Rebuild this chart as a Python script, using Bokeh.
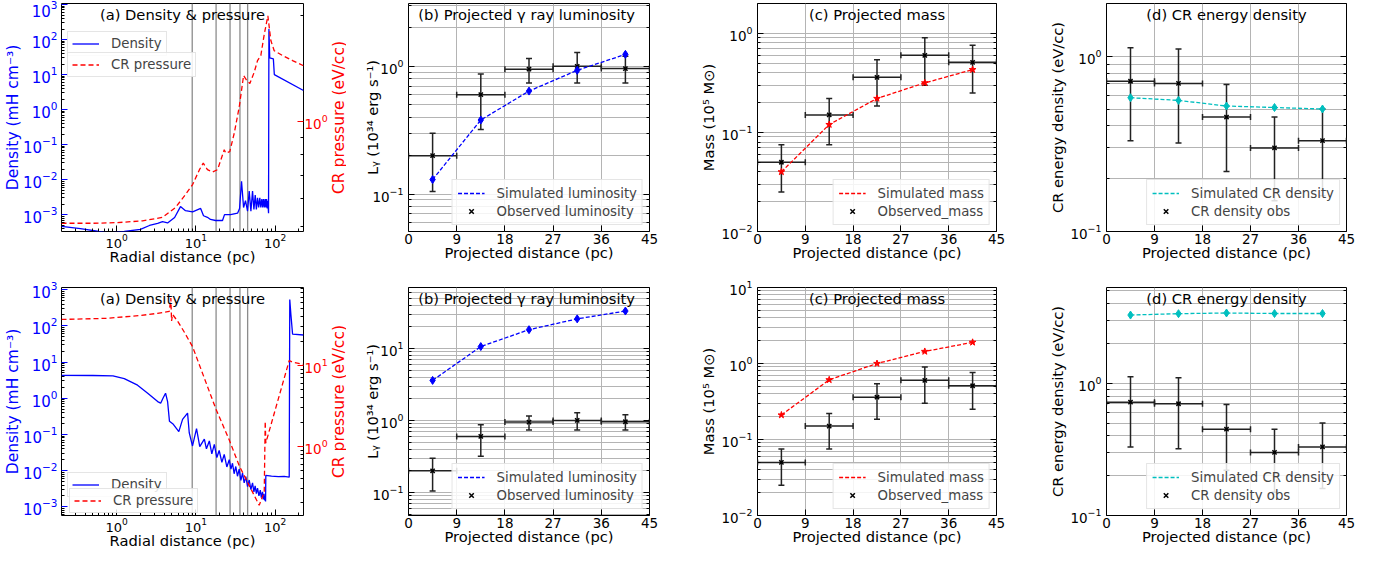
import math
from bokeh.plotting import figure
from bokeh.models import (Range1d, LogScale, LogAxis, FixedTicker, Span, Label,
                          Legend, LegendItem, Whisker, TeeHead, ColumnDataSource)
from bokeh.layouts import row, column
from bokeh.embed import file_html
from bokeh.resources import INLINE

# ---------------------------------------------------------------- data
# (a) radial profiles, top row  (r in pc)
r_dens_top = [0.202, 0.35, 0.6, 0.8, 1.25, 2.0, 2.6, 3.3, 3.8, 4.4, 5.4, 6.4, 7.4, 9.1,
              11.5, 12.5, 14.0, 15.3, 17.7, 21.7, 23.0, 27.4, 33.6, 35.6, 37.7, 40.0,
              42.3, 44.9, 47.1, 49.5, 51.9, 54.0, 56.1, 58.0, 60.0, 62.0, 64.1, 66.0,
              68.0, 69.7, 71.4, 73.2, 75.0, 76.5, 78.0, 79.5, 80.9, 82.6, 83.5, 85.5,
              95.0, 97.7, 228.0]
dens_top = [4.6e-4, 4.0e-4, 3.3e-4, 3.0e-4, 3.3e-4, 3.8e-4, 4.9e-4, 5.6e-4, 6.3e-4,
            5.8e-4, 8.3e-4, 1.7e-3, 1.3e-3, 1.2e-3, 1.5e-3, 9.3e-4, 8.4e-4, 7.3e-4,
            6.8e-4, 6.8e-4, 1.0e-3, 1.0e-3, 1.1e-3, 1.5e-3, 9.0e-3, 1.6e-3, 2.5e-3,
            1.25e-3, 4.7e-3, 1.25e-3, 4.7e-3, 1.4e-3, 3.6e-3, 1.4e-3, 3.0e-3, 1.6e-3,
            3.0e-3, 1.6e-3, 2.8e-3, 1.6e-3, 2.8e-3, 1.6e-3, 2.8e-3, 1.6e-3, 2.8e-3,
            1.5e-3, 2.5e-3, 1.1e-3, 200.0, 30.0, 28.0, 10.0, 3.5]
r_pres_top = [0.202, 0.5, 1.0, 2.13, 3.8, 5.55, 7.4, 9.1, 11.1, 12.4, 14.0, 16.2, 18.8,
              22.8, 23.9, 26.8, 30.5, 35.3, 40.0, 43.6, 48.0, 54.5, 60.0, 66.0, 72.9,
              81.0, 88.3, 97.4, 124.0, 166.0, 228.0]
pres_top = [0.51, 0.51, 0.512, 0.518, 0.53, 0.566, 0.616, 0.658, 0.726, 0.758, 0.726,
            0.715, 0.726, 0.828, 0.81, 0.818, 0.923, 1.099, 1.35, 1.31, 1.28, 1.38,
            1.49, 1.54, 1.77, 2.0, 1.70, 1.59, 1.54, 1.49, 1.44]

# (a) radial profiles, bottom row
r_dens_bot = [0.202, 0.5, 0.9, 1.25, 1.84, 2.47, 3.3, 3.6, 3.85, 4.15, 4.4, 4.65, 5.2,
              6.1, 6.8, 7.86, 8.26, 9.08, 10.2, 11.2, 12.8, 13.6, 14.8, 15.9, 17.1,
              18.4, 19.7, 21.3, 22.8, 24.6, 26.4, 27.7, 29.0, 30.4, 31.9, 33.5, 35.2,
              37.0, 38.8, 40.7, 42.7, 44.9, 47.1, 49.5, 51.9, 54.0, 56.0, 58.0, 60.0,
              62.5, 65.0, 67.0, 69.3, 71.0, 72.5, 74.0, 75.0, 75.8, 76.3, 90.0, 110.0,
              130.0, 150.6, 153.0, 158.0, 166.0, 228.0]
dens_bot = [4.3, 4.25, 4.15, 3.5, 2.3, 1.38, 0.81, 0.73, 1.0, 1.38, 0.81, 0.23, 0.19,
            0.12, 0.26, 0.39, 0.11, 0.048, 0.145, 0.046, 0.074, 0.04, 0.066, 0.029,
            0.053, 0.023, 0.036, 0.017, 0.028, 0.0126, 0.02, 0.011, 0.016, 0.0082,
            0.013, 0.007, 0.011, 0.0054, 0.0085, 0.0046, 0.0068, 0.0036, 0.0055, 0.003,
            0.0046, 0.0026, 0.0038, 0.0023, 0.0033, 0.002, 0.0029, 0.0018, 0.0026,
            0.0016, 0.0023, 0.0015, 0.0019, 0.0014, 0.0074, 0.007, 0.0068, 0.0069,
            0.0066, 535.0, 210.0, 59.0, 56.0]
r_pres_bot = [0.202, 0.77, 2.02, 3.29, 4.62, 4.84, 4.94, 5.08, 5.87, 6.8, 7.2, 9.1,
              17.9, 26.4, 35.3, 47.0, 63.0, 72.9, 75.0, 76.3, 150.6, 166.0, 228.0]
pres_bot = [37.0, 38.2, 41.5, 44.0, 46.5, 68.0, 35.4, 42.7, 35.4, 28.0, 25.5, 17.0,
            2.9, 1.2, 0.575, 0.33, 0.187, 0.272, 2.04, 1.1, 11.5, 11.0, 10.3]

shell_edges = [9, 18, 27, 36, 45]

# projected quantities (bins of 9 pc)
x_obs = [4.5, 13.5, 22.5, 31.5, 40.5]
x_half = [4.5, 4.5, 4.5, 4.5, 4.5]
dist_ticks = [0, 9, 18, 27, 36, 45]

lum_obs = [0.2, 0.6, 0.95, 1.0, 0.96]
lum_lo = [0.105, 0.32, 0.74, 0.74, 0.74]
lum_hi = [0.30, 0.87, 1.15, 1.28, 1.2]
lum_sim_top = [0.13, 0.38, 0.64, 0.93, 1.24]
lum_sim_bot = [3.6, 10.6, 18.2, 25.7, 33.0]

mass_obs = [0.05, 0.15, 0.36, 0.6, 0.51]
mass_lo = [0.025, 0.075, 0.185, 0.3, 0.25]
mass_hi = [0.075, 0.22, 0.54, 0.9, 0.76]
mass_sim_top = [0.04, 0.12, 0.22, 0.316, 0.43]
mass_sim_bot = [0.21, 0.61, 1.0, 1.44, 1.9]

ecr_obs = [0.72, 0.70, 0.45, 0.30, 0.33]
ecr_lo = [0.33, 0.32, 0.22, 0.15, 0.16]
ecr_hi = [1.12, 1.1, 0.69, 0.45, 0.5]
ecr_sim_top = [0.58, 0.56, 0.52, 0.51, 0.50]
ecr_sim_bot = [3.28, 3.36, 3.40, 3.37, 3.37]

# ---------------------------------------------------------------- style
FONT = "DejaVu Sans"
BLUE = "#0000ff"
RED = "#ff0000"
CYAN = "#00bfbf"
GRID = "#b4b4b4"
ERR = "#222222"
DASH = "5 3"


def log_minor(lo, hi):
    out = []
    e = math.floor(math.log10(lo)) - 1
    while 10.0 ** e <= hi:
        for m in range(2, 10):
            v = round(m * 10.0 ** e, 12)
            if lo <= v <= hi:
                out.append(v)
        e += 1
    return out


def log_major(lo, hi):
    return [10.0 ** e for e in range(math.ceil(math.log10(lo) - 1e-9),
                                     math.floor(math.log10(hi) + 1e-9) + 1)]


def make_fig(xr, yr, x_log, fw, fh, bl, br, bt, bb):
    p = figure(x_range=Range1d(*xr), y_range=Range1d(*yr),
               x_axis_type="log" if x_log else "linear", y_axis_type="log",
               frame_width=fw, frame_height=fh,
               min_border_left=bl, min_border_right=br,
               min_border_top=bt, min_border_bottom=bb,
               output_backend="svg", toolbar_location=None)
    p.outline_line_color = "black"
    p.outline_line_width = 1
    p.background_fill_color = "white"
    p.border_fill_color = "white"
    return p


def style_axis(ax, tick_size="13.5px", label_size="14.7px", color="black",
               major_color="black", minor_color="black", lab_standoff=4, ax_standoff=2):
    ax.axis_line_color = None
    ax.major_tick_in = 6
    ax.major_tick_out = 0
    ax.minor_tick_in = 3
    ax.minor_tick_out = 0
    ax.major_tick_line_color = major_color
    ax.minor_tick_line_color = minor_color
    ax.major_label_text_font = FONT
    ax.major_label_text_font_size = tick_size
    ax.major_label_text_color = color
    ax.axis_label_text_font = FONT
    ax.axis_label_text_font_size = label_size
    ax.axis_label_text_font_style = "normal"
    ax.axis_label_text_color = color
    ax.major_label_standoff = lab_standoff
    ax.axis_label_standoff = ax_standoff


def style_legend(lg, pad=5, lh=16):
    lg.label_text_font = FONT
    lg.label_text_font_size = "13.3px"
    lg.glyph_width = 27
    lg.glyph_height = lh
    lg.label_height = lh
    lg.label_standoff = 12
    lg.padding = pad
    lg.spacing = 2
    lg.margin = 6
    lg.border_line_color = "#cccccc"
    lg.border_line_width = 1
    lg.background_fill_color = "white"
    lg.background_fill_alpha = 0.85


def add_title(p, text, fw, fh):
    p.add_layout(Label(x=fw / 2, y=fh - 2, x_units="screen", y_units="screen",
                       text=text, text_align="center", text_baseline="top",
                       text_font=FONT, text_font_size="14.7px", text_color="black"))


def panel_a(fh, bt, bb, r_d, d, r_p, pv, yr_left, yr_right, leg_d, leg_p):
    fw = 242
    xr = (0.202, 228.0)
    p = make_fig(xr, yr_left, True, fw, fh, 53, 26, bt, bb)
    p.grid.visible = False
    xa = p.below[0]
    ya = p.left[0]
    xa.ticker = FixedTicker(ticks=log_major(*xr), minor_ticks=log_minor(*xr))
    ya.ticker = FixedTicker(ticks=log_major(*yr_left), minor_ticks=log_minor(*yr_left))
    style_axis(xa, tick_size="13px", lab_standoff=2, ax_standoff=-3)
    style_axis(ya, tick_size="15px", label_size="15.5px", color=BLUE,
               major_color=BLUE, lab_standoff=4, ax_standoff=-2)
    xa.axis_label = "Radial distance (pc)"
    ya.axis_label = "Density (mH cm\u207b\u00b3)"

    p.extra_y_ranges = {"pres": Range1d(*yr_right)}
    p.extra_y_scales = {"pres": LogScale()}
    ra = LogAxis(y_range_name="pres",
                 ticker=FixedTicker(ticks=log_major(*yr_right), minor_ticks=log_minor(*yr_right)))
    style_axis(ra, tick_size="13.5px", color=RED, major_color=RED, lab_standoff=1)
    p.add_layout(ra, "right")

    for e in shell_edges:
        p.add_layout(Span(location=e, dimension="height", line_color="#8c8c8c",
                          line_width=1.3, level="underlay"))
    rd = p.line(r_d, d, line_color=BLUE, line_width=1.3)
    rp = p.line(r_p, pv, line_color=RED, line_width=1.3, line_dash=DASH,
                y_range_name="pres")
    add_title(p, "(a) Density & pressure", fw, fh)
    l1 = Legend(items=[LegendItem(label="Density", renderers=[rd])], location=leg_d)
    l2 = Legend(items=[LegendItem(label="CR pressure", renderers=[rp])], location=leg_p)
    for lg in (l1, l2):
        style_legend(lg, pad=4, lh=15)
        p.add_layout(lg)
    return p


def pressure_title(fh, bt, bb):
    # narrow strip holding the right-hand (CR pressure) axis title of panel (a)
    w = 16
    s = figure(x_range=Range1d(0, 1), y_range=Range1d(0, 1), frame_width=w,
               frame_height=fh, min_border_left=0, min_border_right=0,
               min_border_top=bt, min_border_bottom=bb,
               output_backend="svg", toolbar_location=None)
    s.axis.visible = False
    s.grid.visible = False
    s.outline_line_color = None
    s.background_fill_color = "white"
    s.border_fill_color = "white"
    s.add_layout(Label(x=w / 2, y=fh / 2, x_units="screen", y_units="screen",
                       text="CR pressure (eV/cc)", angle=math.pi / 2,
                       text_align="center", text_baseline="middle",
                       text_font=FONT, text_font_size="15.5px", text_color=RED))
    return s


def panel_obs(fw, fh, bl, br, bt, bb, yr, ylabel, title, sim, color, marker, msize,
              obs, lo, hi, sim_label, obs_label, ax_standoff):
    p = make_fig((0, 45), yr, False, fw, fh, bl, br, bt, bb)
    xa = p.below[0]
    ya = p.left[0]
    xa.ticker = FixedTicker(ticks=dist_ticks)
    ya.ticker = FixedTicker(ticks=log_major(*yr), minor_ticks=log_minor(*yr))
    style_axis(xa, lab_standoff=2, ax_standoff=-3)
    style_axis(ya, lab_standoff=5, ax_standoff=ax_standoff)
    xa.axis_label = "Projected distance (pc)"
    ya.axis_label = ylabel
    p.xgrid.grid_line_color = GRID
    p.ygrid.grid_line_color = GRID
    p.ygrid.minor_grid_line_color = GRID
    ra = LogAxis(ticker=FixedTicker(ticks=log_major(*yr), minor_ticks=log_minor(*yr)))
    style_axis(ra)
    ra.major_label_text_font_size = "1px"
    ra.major_label_text_alpha = 0.0
    ra.major_label_standoff = 0
    p.add_layout(ra, "right")

    src = ColumnDataSource(dict(
        x=x_obs, y=obs, lo=lo, hi=hi,
        xl=[a - b for a, b in zip(x_obs, x_half)],
        xh=[a + b for a, b in zip(x_obs, x_half)]))
    for base, lw, up, dim in (("x", "lo", "hi", "height"), ("y", "xl", "xh", "width")):
        p.add_layout(Whisker(source=src, base=base, lower=lw, upper=up, dimension=dim,
                             line_color=ERR, line_width=1.5,
                             upper_head=TeeHead(size=6, line_color=ERR, line_width=1.5),
                             lower_head=TeeHead(size=6, line_color=ERR, line_width=1.5)))
    obs_r = p.scatter("x", "y", source=src, marker="x", size=6,
                      line_color="black", line_width=1.5)
    sim_l = p.line(x_obs, sim, line_color=color, line_width=1.3, line_dash="4 2")
    p.scatter(x_obs, sim, marker=marker, size=msize, fill_color=color, line_color=color)
    add_title(p, title, fw, fh)
    lg = Legend(items=[LegendItem(label=sim_label, renderers=[sim_l]),
                       LegendItem(label=obs_label, renderers=[obs_r])],
                location="bottom_right")
    style_legend(lg)
    p.add_layout(lg)
    return p


LUM_LABEL = "L\u1d67 (10\u00b3\u2074 erg s\u207b\u00b9)"
MASS_LABEL = "Mass (10\u2075 M\u2299)"
ECR_LABEL = "CR energy density (eV/cc)"

FH = 228
rows = []
for (bt, bb, r_d, d, r_p, pv, yl, yrr, ld, lp, lsim, msim, esim, yb, yc, yd) in (
        (3, 48, r_dens_top, dens_top, r_pres_top, pres_top,
         (3.3e-4, 1070.0), (0.483, 2.17), (6, FH - 53), (6, FH - 74),
         lum_sim_top, mass_sim_top, ecr_sim_top, (0.051, 3.1), (0.01, 2.0), (0.1, 2.0)),
        (8, 31, r_dens_bot, dens_bot, r_pres_bot, pres_bot,
         (5.75e-4, 1150.0), (0.14, 91.8), (6, 18), (8, 2),
         lum_sim_bot, mass_sim_bot, ecr_sim_bot, (0.048, 70.0), (0.01, 10.0), (0.1, 5.3))):
    pa = panel_a(FH, bt, bb, r_d, d, r_p, pv, yl, yrr, ld, lp)
    ps = pressure_title(FH, bt, bb)
    pb = panel_obs(241, FH, 62, 48, bt, bb, yb, LUM_LABEL,
                   "(b)  Projected \u03b3 ray luminosity", lsim, BLUE, "diamond", 8,
                   lum_obs, lum_lo, lum_hi, "Simulated luminosity", "Observed luminosity", -12)
    pc = panel_obs(239, FH, 57, 50, bt, bb, yc, MASS_LABEL, "(c) Projected mass",
                   msim, RED, "star", 7, mass_obs, mass_lo, mass_hi,
                   "Simulated mass", "Observed_mass", 1)
    pd_ = panel_obs(240, FH, 55, 20, bt, bb, yd, ECR_LABEL, "(d) CR energy density",
                    esim, CYAN, "diamond", 8, ecr_obs, ecr_lo, ecr_hi,
                    "Simulated CR density", "CR density obs", 1)
    rows.append(row(pa, ps, pb, pc, pd_))

layout = column(*rows)
open("out.html", "w").write(file_html(layout, INLINE, title="chart"))
